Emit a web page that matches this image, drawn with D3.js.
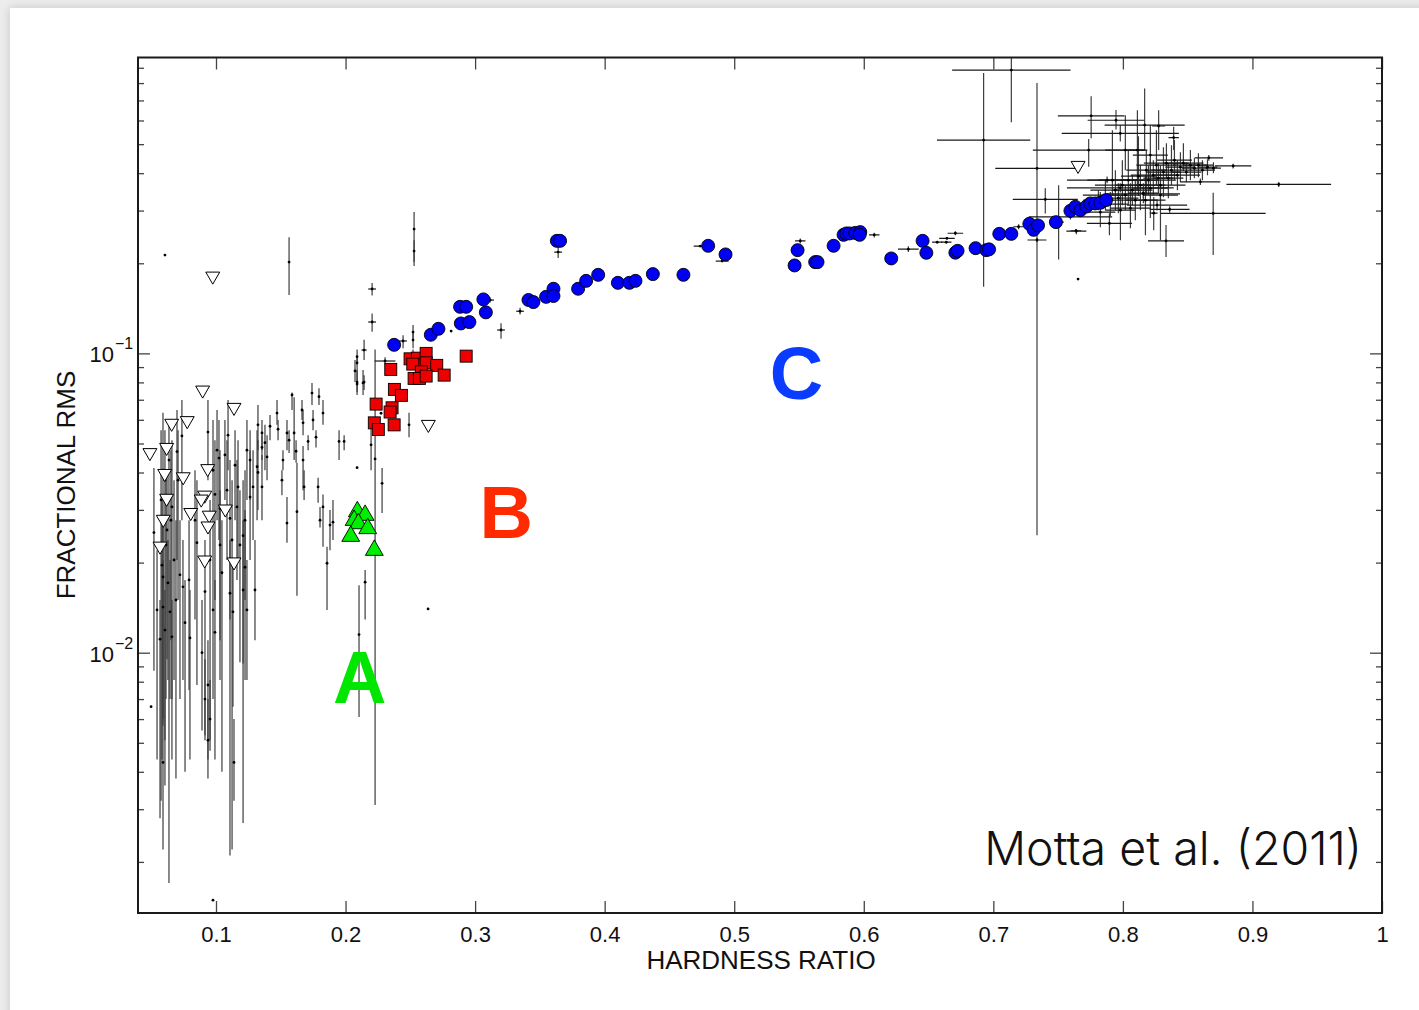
<!DOCTYPE html>
<html>
<head>
<meta charset="utf-8">
<script src="https://cdn.jsdelivr.net/npm/d3@7"></script>
<style>
  body { margin: 0; background: #ececec; overflow: hidden; }
  #card { position: absolute; left: 10px; top: 8px; width: 1420px; height: 1010px; background: #fff; box-shadow: 0 0 9px rgba(0,0,0,0.16); }
  svg { position: absolute; left: 0; top: 0; }
  text { font-family: "Liberation Sans", Arial, Helvetica, sans-serif; }
</style>
</head>
<body>
<div id="card"></div>
<script>
// Axes
const hrDomain = [0.0398, 1.0];
const rmsDomain = [0.00135, 0.974];
const xTicks = [0.1, 0.2, 0.3, 0.4, 0.5, 0.6, 0.7, 0.8, 0.9, 1.0];
const yMajor = [0.01, 0.1];
const yMajorLabels = ["\u22122", "\u22121"];

// Black points with error bars: [hr, rms, rmsLo, rmsHi, hrErr]
const softPts = [
  [.0521,.0252,.0087,.0414], [.0591,.0407,.0057,.0633], [.0606,.0377,.0036,.0554],
  [.0637,.0440,.0017,.0599], [.0660,.0307,.0070,.0513], [.0622,.0257,.0095,.0407],
  [.0583,.0196,.0044,.0324], [.0591,.0179,.0070,.0277], [.0629,.0171,.0081,.0238],
  [.0591,.0142,.0060,.0204], [.0645,.0137,.0070,.0204], [.0606,.0119,.0051,.0162],
  [.0568,.0111,.0028,.0150], [.0660,.0113,.0044,.0150], [.0699,.0470,.0204,.0647],
  [.0707,.0377,.0150,.0554], [.0722,.0182,.0070,.0277], [.0745,.0166,.0081,.0238],
  [.0761,.0126,.0040,.0175], [.0792,.0175,.0075,.0277], [.0799,.0112,.0044,.0162],
  [.0737,.0530,.0277,.0698], [.0838,.0277,.0129,.0407], [.0853,.0233,.0078,.0377],
  [.0892,.0100,.0055,.0150], [.0915,.0160,.0053,.0238], [.0938,.0546,.0377,.0698],
  [.0954,.0204,.0047,.0324], [.0977,.0407,.0204,.0599], [.0992,.0338,.0150,.0513],
  [.1008,.0475,.0277,.0647], [.1023,.0447,.0238,.0599], [.1031,.0303,.0110,.0475],
  [.1031,.0229,.0081,.0349], [.1046,.0185,.0040,.0277], [.0977,.0139,.0070,.0204],
  [.0992,.0117,.0044,.0175], [.1069,.0458,.0324,.0599], [.1085,.0349,.0204,.0513],
  [.1093,.0533,.0407,.0698], [.1108,.0281,.0129,.0440], [.1124,.0238,.0022,.0377],
  [.1108,.0158,.0021,.0238], [.1131,.0137,.0066,.0204], [.1147,.0423,.0277,.0554],
  [.1162,.0307,.0175,.0440], [.1170,.0358,.0204,.0513], [.1185,.0229,.0093,.0349],
  [.1209,.0246,.0092,.0377], [.1209,.0162,.0027,.0277], [.1224,.0193,.0081,.0300],
  [.1239,.0139,.0081,.0204], [.1224,.0277,.0150,.0407], [.1239,.0475,.0324,.0599],
  [.1263,.0331,.0204,.0475], [.1286,.0358,.0238,.0475], [.1317,.0418,.0277,.0554],
  [.1301,.0162,.0110,.0238], [.1324,.0400,.0300,.0513], [.1324,.0577,.0475,.0672],
  [.1378,.0503,.0407,.0577], [.1394,.0451,.0377,.0533], [.1263,.0440,.0324,.0554],
  [.1355,.0358,.0277,.0458], [.0499,.0066,.0066,.0066], [.0591,.0043,.0022,.0070],
  [.0915,.0070,.0051,.0095], [.0938,.0078,.0044,.0110], [.0954,.0060,.0051,.0081],
  [.0938,.0051,.0038,.0070], [.1139,.0043,.0032,.0060], [.0977,.00149,.00149,.00149],
  [.0614,.0229,.0070,.0407], [.0652,.0277,.0110,.0475], [.0576,.0324,.0032,.0554],
  [.0676,.0204,.0081,.0377], [.0545,.0139,.0044,.0220], [.0691,.0150,.0038,.0277]
];

const midPts = [
  [.1587,.0726,.0647,.0740], [.1603,.0542,.0440,.0713], [.1741,.0737,.0672,.0797],
  [.1795,.0717,.0672,.0765], [.1826,.0632,.0577,.0698], [.1664,.0647,.0599,.0698],
  [.1672,.0586,.0533,.0647], [.1749,.0599,.0554,.0647], [.1711,.0508,.0475,.0533],
  [.1772,.0525,.0485,.0554], [.1950,.0508,.0440,.0554], [.1989,.0508,.0475,.0533],
  [.2089,.0790,.0726,.0880], [.2135,.0797,.0726,.0880], [.1471,.0632,.0577,.0698],
  [.1417,.0571,.0513,.0622], [.1479,.0558,.0513,.0599], [.1355,.0542,.0475,.0599],
  [.1355,.0485,.0440,.0533], [.1548,.0542,.0475,.0599], [.1564,.0513,.0465,.0554],
  [.1618,.0471,.0431,.0513], [.1517,.0440,.0407,.0475], [.1509,.0377,.0336,.0407],
  [.1672,.0440,.0349,.0490], [.1680,.0358,.0324,.0407], [.1625,.0296,.0155,.0431],
  [.1548,.0271,.0233,.0331], [.1788,.0358,.0317,.0384], [.1826,.0307,.0226,.0338],
  [.1803,.0277,.0262,.0307], [.1857,.0199,.0139,.0226], [.1903,.0273,.0238,.0324],
  [.1880,.0267,.0220,.0300], [.2089,.0415,.0415,.0415], [.2197,.0495,.0407,.0599],
  [.2282,.0368,.0293,.0414], [.2151,.0172,.0129,.0189], [.2104,.0115,.0061,.0168],
  [.2228,.0444,.0031,.1030], [.1564,.2018,.1566,.2445], [.0606,.2130,.2130,.2130],
  [.2529,.2602,.1957,.2966], [.2529,.2197,.2018,.2390], [.2205,.1641,.1560,.1720,.003],
  [.2205,.1273,.1180,.1360,.003], [.2143,.1026,.0950,.1110,.002], [.2089,.0975,.0917,.1030],
  [.2089,.0930,.0866,.0980], [.2073,.0874,.0803,.0950], [.2089,.0802,.0743,.0866],
  [.2143,.0802,.0754,.0846], [.2305,.0943,.0917,.0970,.008], [.2444,.1100,.1040,.1150,.003],
  [.2521,.1178,.1110,.1244], [.2521,.1108,.1040,.1170], [.2521,.0972,.0937,.1030],
  [.2490,.0577,.0525,.0633], [.2274,.0631,.0631,.0631], [.2815,.1187,.1187,.1187],
  [.3200,.1197,.1120,.1260,.003], [.3347,.1383,.1350,.1420,.003], [.3116,.1507,.1480,.1540,.003],
  [.3641,.2180,.2084,.2265,.003], [.4737,.2284,.2284,.2284,.005], [.4907,.2034,.2034,.2034,.005],
  [.5510,.2375,.2330,.2420,.004], [.6081,.2487,.2440,.2530,.004], [.6344,.2230,.2180,.2280,.008],
  [.6567,.2352,.2330,.2375,.004], [.6637,.2352,.2330,.2375,.004], [.2637,.0140,.0140,.0140]
];

const hardPts = [
  [.7139,.884,.592,1.2,.0457], [.6925,.516,.1669,.865,.036], [.7337,.415,.0247,.801,.0322],
  [.7755,.622,.523,.723,.0257], [.7947,.601,.560,.650,.0219], [.8168,.579,.478,.768,.0309],
  [.8276,.575,.478,.649,.005], [.7980,.543,.510,.580,.0452], [.8392,.526,.478,.572,.004],
  [.7736,.478,.420,.520,.0431], [.8663,.450,.440,.460,.011], [.8851,.423,.415,.430,.014],
  [.9203,.367,.360,.374,.0404], [.8697,.2935,.2133,.3440,.0405], [.8333,.2378,.2101,.2684,.0139],
  [.8238,.294,.258,.333,.003], [.7896,.2718,.248,.294,.0174], [.7641,.2562,.250,.260,.0077],
  [.7504,.2746,.2058,.3648,.004], [.7401,.327,.2934,.356,.0251], [.7337,.2392,.235,.243,.0073],
  [.6707,.2520,.248,.256,.006], [.6642,.2424,.240,.245,.006], [.7195,.2649,.260,.270,.004],
  [.7595,.2859,.280,.290,.0322], [.8361,.3027,.295,.310,.0154], [.8598,.3743,.365,.384,.0154],
  [.7654,.1771,.1771,.1771,0], [.7638,.2569,.253,.260,.004], [.8264,.3130,.300,.325,.0232],
  [.8158,.341,.330,.350,.0283], [.7980,.3573,.345,.370,.0412], [.7878,.3791,.370,.390,.0309],
  [.7811,.3251,.3010,.3511,.0116], [.7865,.3379,.3010,.3791,.0174], [.7903,.3152,.2874,.3458,.0135],
  [.7942,.3511,.3010,.4095,.0193], [.7965,.3300,.2941,.3705,.0155], [.7996,.3648,.3128,.4420,.0212],
  [.8019,.3379,.3010,.3648,.0116], [.8042,.3791,.3128,.4780,.0232], [.8073,.3511,.3128,.3939,.0155],
  [.8096,.3251,.2787,.3791,.0174], [.8120,.3909,.3353,.5318,.0135], [.8135,.3648,.3010,.4255,.0193],
  [.8158,.3431,.3177,.3705,.0116], [.8181,.4095,.3379,.4780,.0155], [.8197,.3791,.3379,.4255,.0212],
  [.8212,.3565,.2831,.4489,.0135], [.8235,.3939,.3379,.4420,.0174], [.8259,.4255,.3648,.5570,.0155],
  [.8274,.3850,.3431,.4320,.0116], [.8290,.3648,.3128,.4255,.0193], [.8313,.4033,.3327,.4887,.0135],
  [.8336,.4320,.3850,.5040,.0174], [.8351,.3850,.3300,.4320,.0116], [.8375,.4095,.3648,.4963,.0155],
  [.8398,.4420,.3791,.5160,.0135], [.8421,.3939,.3511,.4420,.0174], [.8444,.4190,.3733,.4702,.0116],
  [.8467,.4320,.4064,.5040,.0155], [.8490,.4033,.3733,.4353,.0116], [.8521,.4255,.3791,.4780,.0135],
  [.8552,.4158,.3850,.4489,.0097], [.8583,.4255,.3880,.4667,.0116], [.8614,.4095,.3791,.4420,.0097],
  [.8653,.4190,.3939,.4455,.0077], [.8699,.4158,.4000,.4353,.0058], [.8058,.3057,.2621,.3705,.0155],
  [.7981,.3010,.2390,.3379,.0116], [.8174,.3251,.2483,.3939,.0155], [.8290,.3379,.2390,.3791,.0135],
  [.7826,.2964,.2641,.3458,.0116], [.7919,.3791,.3379,.5570,.0193], [.8112,.4780,.3511,.6490,.0077],
  [.8019,.4780,.4095,.6252,.0155], [.8212,.4597,.3791,.5789,.0135]
];

// Upper limits (open triangles): [hr, rms]
const upperLimits = [
  [.0975,.1812], [.0897,.0754], [.1139,.0660], [.0778,.0596], [.0658,.0584], [.0490,.0466],
  [.0619,.0485], [.0604,.0397], [.0747,.0387], [.0936,.0412], [.0913,.0336], [.0886,.0326],
  [.0619,.0328], [.0805,.0294], [.1072,.0302], [.0948,.0288], [.0938,.0265], [.0593,.0279],
  [.0568,.0227], [.0913,.0204], [.1139,.0201], [.2639,.0579], [.7654,.4246]
];

// Group A (green triangles), B (red squares), C (blue circles): [hr, rms]
const groupA = [
  [.2091,.0296], [.2151,.0288], [.2066,.0277], [.2099,.0270], [.2171,.0260], [.2040,.0245], [.2222,.0220]
];
const groupB = [
  [.2349,.0884], [.2498,.0959], [.2554,.0964], [.2622,.1000], [.2622,.0930], [.2519,.0921],
  [.2704,.0912], [.2761,.0846], [.2585,.0868], [.2529,.0825], [.2570,.0825], [.2622,.0840],
  [.2931,.0979], [.2377,.0758], [.2431,.0724], [.2236,.0677], [.2359,.0658], [.2344,.0637],
  [.2222,.0586], [.2253,.0557], [.2375,.0577]
];
const groupC = [
  [.2375,.1068], [.2658,.1154], [.2717,.1208], [.2890,.1259], [.2956,.1272], [.2884,.1431],
  [.2931,.1431], [.3064,.1515], [.3083,.1371], [.3412,.1508], [.3450,.1484], [.3548,.1545],
  [.3605,.1644], [.3605,.1555], [.3631,.2377], [.3656,.2377], [.3795,.1644], [.3857,.1747],
  [.3950,.1830], [.4102,.1721], [.4191,.1721], [.4238,.1747], [.4372,.1840], [.4608,.1830],
  [.4799,.2288], [.4933,.2141], [.5466,.1967], [.5489,.2213], [.5625,.2018], [.5643,.2018],
  [.5767,.2288], [.5844,.2489], [.5865,.2516], [.5890,.2516], [.5934,.2527], [.5973,.2542],
  [.5968,.2489], [.6212,.2076], [.6454,.2377], [.6483,.2168], [.6707,.2170], [.6724,.2201],
  [.6863,.2247], [.6946,.2213], [.6967,.2226], [.7046,.2508], [.7139,.2508], [.7278,.2709],
  [.7311,.2587], [.7345,.2676], [.7483,.2745], [.7595,.2995], [.7633,.3088], [.7672,.3010],
  [.7718,.3095], [.7749,.3170], [.7787,.3170], [.7826,.3185], [.7870,.3252]
];

const groupLabels = [
  { text: "A", hr: 0.2110, rms: 0.0068, color: "#00e600" },
  { text: "B", hr: 0.3240, rms: 0.0242, color: "#ff2a00" },
  { text: "C", hr: 0.5480, rms: 0.0704, color: "#0a3cff" }
];

// Layout
const width = 1419, height = 1010;
const plot = { left: 138, right: 1382, top: 57.5, bottom: 913 };

const x = d3.scaleLinear().domain(hrDomain).range([plot.left, plot.right]);
const y = d3.scaleLog().domain(rmsDomain).range([plot.bottom, plot.top]);

const svg = d3.select('body').append('svg')
    .attr('width', width)
    .attr('height', height);

svg.append('clipPath').attr('id', 'plot-clip')
  .append('rect')
    .attr('x', plot.left).attr('y', plot.top)
    .attr('width', plot.right - plot.left)
    .attr('height', plot.bottom - plot.top);

const marks = svg.append('g').attr('clip-path', 'url(#plot-clip)');

// Error bars
const errPts = softPts.concat(midPts, hardPts);

marks.append('g')
    .attr('stroke', '#3c3c3c')
    .attr('stroke-width', 1.2)
  .selectAll('line')
  .data(errPts.filter(d => d[2] !== d[3]))
  .join('line')
    .attr('x1', d => x(d[0])).attr('x2', d => x(d[0]))
    .attr('y1', d => y(d[2])).attr('y2', d => y(d[3]));

marks.append('g')
    .attr('stroke', '#1a1a1a')
    .attr('stroke-width', 1.2)
  .selectAll('line')
  .data(errPts.filter(d => d[4] > 0))
  .join('line')
    .attr('x1', d => x(d[0] - d[4])).attr('x2', d => x(d[0] + d[4]))
    .attr('y1', d => y(d[1])).attr('y2', d => y(d[1]));

marks.append('g')
    .attr('fill', '#000')
  .selectAll('circle')
  .data(errPts)
  .join('circle')
    .attr('cx', d => x(d[0]))
    .attr('cy', d => y(d[1]))
    .attr('r', 1.4);

// Upper limits
const triDown = d3.symbol().type(d3.symbolTriangle).size(84);
marks.append('g')
  .selectAll('path')
  .data(upperLimits)
  .join('path')
    .attr('d', triDown)
    .attr('transform', d => `translate(${x(d[0])},${y(d[1])}) rotate(180)`)
    .attr('fill', '#fff')
    .attr('stroke', '#000')
    .attr('stroke-width', 1);

// Blue circles (C)
marks.append('g')
  .selectAll('circle')
  .data(groupC)
  .join('circle')
    .attr('cx', d => x(d[0]))
    .attr('cy', d => y(d[1]))
    .attr('r', 6.5)
    .attr('fill', '#0000f5')
    .attr('stroke', '#000')
    .attr('stroke-width', 0.9);

// Red squares (B)
marks.append('g')
  .selectAll('rect')
  .data(groupB)
  .join('rect')
    .attr('x', d => x(d[0]) - 6)
    .attr('y', d => y(d[1]) - 6)
    .attr('width', 12)
    .attr('height', 12)
    .attr('fill', '#ee0000')
    .attr('stroke', '#000')
    .attr('stroke-width', 0.9);

// Green triangles (A)
const triUp = d3.symbol().type(d3.symbolTriangle).size(138);
marks.append('g')
  .selectAll('path')
  .data(groupA)
  .join('path')
    .attr('d', triUp)
    .attr('transform', d => `translate(${x(d[0])},${y(d[1])})`)
    .attr('fill', '#00ee00')
    .attr('stroke', '#000')
    .attr('stroke-width', 0.9);

// Frame and ticks
const tickStyle = g => g.selectAll('.tick line').attr('stroke', '#444').attr('stroke-width', 1.3);

svg.append('g')
    .attr('transform', `translate(0,${plot.bottom})`)
    .call(d3.axisBottom(x).tickValues(xTicks).tickSizeInner(-12).tickSizeOuter(0).tickPadding(13)
        .tickFormat(d => d === 1 ? "1" : d3.format(".1f")(d)))
    .call(g => g.select('.domain').remove())
    .call(tickStyle)
    .call(g => g.selectAll('text').attr('font-size', 22).attr('fill', '#111')
        .attr('font-family', '"Liberation Sans", Arial, sans-serif'));

svg.append('g')
    .attr('transform', `translate(0,${plot.top})`)
    .call(d3.axisTop(x).tickValues(xTicks).tickSizeInner(-12).tickSizeOuter(0).tickFormat(''))
    .call(g => g.select('.domain').remove())
    .call(tickStyle);

const yMinor = y.ticks().filter(v => !yMajor.some(m => Math.abs(m - v) < 1e-9));

[[d3.axisLeft, plot.left], [d3.axisRight, plot.right]].forEach(([axisFn, xPos]) => {
    svg.append('g')
        .attr('transform', `translate(${xPos},0)`)
        .call(axisFn(y).tickValues(yMajor).tickSizeInner(-12).tickSizeOuter(0).tickFormat(''))
        .call(g => g.select('.domain').remove())
        .call(tickStyle);
    svg.append('g')
        .attr('transform', `translate(${xPos},0)`)
        .call(axisFn(y).tickValues(yMinor).tickSizeInner(-6).tickSizeOuter(0).tickFormat(''))
        .call(g => g.select('.domain').remove())
        .call(tickStyle);
});

svg.append('rect')
    .attr('x', plot.left).attr('y', plot.top)
    .attr('width', plot.right - plot.left)
    .attr('height', plot.bottom - plot.top)
    .attr('fill', 'none')
    .attr('stroke', '#1a1a1a')
    .attr('stroke-width', 2);

// Y tick labels 10^-n
svg.append('g')
  .selectAll('text')
  .data(yMajor)
  .join('text')
    .attr('x', 114)
    .attr('y', d => y(d) + 9)
    .attr('text-anchor', 'end')
    .attr('font-size', 22)
    .attr('fill', '#111')
    .text('10');
svg.append('g')
  .selectAll('text')
  .data(yMajor)
  .join('text')
    .attr('x', 115)
    .attr('y', d => y(d) - 4)
    .attr('font-size', 16)
    .attr('fill', '#111')
    .text((d, i) => yMajorLabels[i]);

// Axis titles
svg.append('text')
    .attr('x', 761).attr('y', 969)
    .attr('text-anchor', 'middle')
    .attr('font-size', 26)
    .attr('fill', '#111')
    .text('HARDNESS RATIO');

svg.append('text')
    .attr('transform', 'translate(75,485) rotate(-90)')
    .attr('text-anchor', 'middle')
    .attr('font-size', 26)
    .attr('fill', '#111')
    .text('FRACTIONAL RMS');

// Group letters
svg.append('g')
  .selectAll('text')
  .data(groupLabels)
  .join('text')
    .attr('x', d => x(d.hr))
    .attr('y', d => y(d.rms))
    .attr('text-anchor', 'middle')
    .attr('font-size', 74)
    .attr('font-weight', 'bold')
    .attr('fill', d => d.color)
    .text(d => d.text);

svg.append('text')
    .attr('x', 1362).attr('y', 865)
    .attr('text-anchor', 'end')
    .attr('font-size', 46.5)
    .attr('font-weight', 300)
    .attr('fill', '#111')
    .style('font-family', 'Inter, "Open Sans", sans-serif')
    .text('Motta et al. (2011)');
</script>
</body>
</html>
